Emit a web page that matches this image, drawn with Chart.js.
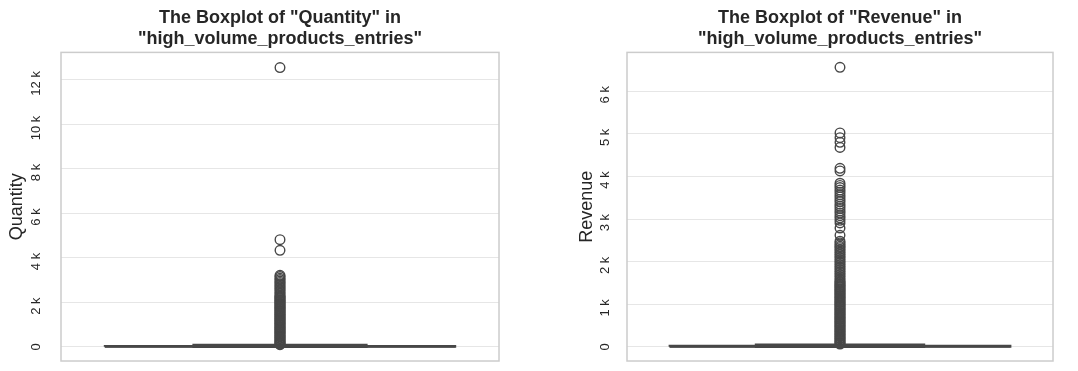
<!DOCTYPE html>
<html>
<head>
<meta charset="utf-8">
<script src="https://cdn.jsdelivr.net/npm/chart.js@4.4.1/dist/chart.umd.min.js"></script>
<style>
body{margin:0;background:#fff;width:1078px;height:371px;position:relative;overflow:hidden}
canvas{position:absolute;top:0}
</style>
</head>
<body>
<canvas id="qty" width="520" height="371" style="left:0"></canvas>
<canvas id="rev" width="538" height="371" style="left:540px"></canvas>
<script>
// box stats: whisker low, q1, median, q3, whisker high
const qtyStats = [1, 6, 16, 42, 95]
const revStats = [1, 5, 12, 27, 60]

// outliers (the low ones are so packed they make a solid column)
const qtyOutliers = [12550, 4820, 4340,
  3220, 3160, 3090, 3030, 2960, 2900, 2840, 2770, 2710, 2650, 2590, 2520, 2460, 2400, 2330, 2280,
  2240, 2210, 2170, 2120, 2090, 2040, 2010, 1960, 1920, 1890, 1840, 1800, 1770, 1720, 1690, 1640,
  1600, 1570, 1520, 1480, 1450, 1400, 1370, 1320, 1280, 1250, 1200, 1170, 1120, 1080, 1050, 1000,
  970, 920, 880, 850, 800, 770, 720, 680, 650, 600, 570, 520, 480, 450, 400, 370, 320, 280, 250,
  200, 170, 130, 105]
const revOutliers = [6560, 5020, 4910, 4800, 4680, 4190, 4130,
  3840, 3790, 3740, 3680, 3630, 3570, 3520, 3460, 3410, 3350, 3300, 3250, 3190, 3140, 3080, 3030,
  2970, 2910, 2790, 2620, 2480,
  2440, 2400, 2360, 2330, 2290, 2250, 2210, 2170, 2130, 2090, 2050, 2010, 1970, 1930, 1890, 1850,
  1810, 1770, 1730, 1690, 1650, 1610, 1570,
  1540, 1510, 1490, 1460, 1440, 1410, 1390, 1360, 1340, 1310, 1290, 1260, 1240, 1210, 1190, 1160,
  1140, 1110, 1090, 1060, 1040, 1010, 990, 960, 940, 910, 890, 860, 840, 810, 790, 760, 740, 710,
  690, 660, 640, 610, 590, 560, 540, 510, 490, 460, 440, 410, 390, 360, 340, 310, 290, 260, 240,
  210, 190, 160, 140, 110, 90, 70]

const qtyTicks = [0, 2000, 4000, 6000, 8000, 10000, 12000]
const revTicks = [0, 1000, 2000, 3000, 4000, 5000, 6000]
const qtyRange = [-630, 13230]
const revRange = [-329, 6909]

const ink = '#474747'
const font = "'Liberation Sans', Arial, sans-serif"

// frame round the plot area, like the seaborn whitegrid spines
const frame = {
  id: 'frame',
  afterDraw(chart) {
    const a = chart.chartArea, ctx = chart.ctx
    ctx.save()
    ctx.strokeStyle = '#cccccc'
    ctx.lineWidth = 1.5
    ctx.strokeRect(a.left, a.top, a.right - a.left, a.bottom - a.top)
    ctx.restore()
  }
}

function seg(points) {
  return {
    data: points.map(p => ({x: p[0], y: p[1]})),
    showLine: true, borderColor: ink, borderWidth: 2, pointRadius: 0, fill: false
  }
}

function boxDatasets(s, outliers) {
  const [lo, q1, med, q3, hi] = s
  return [
    seg([[-0.4, q1], [0.4, q1], [0.4, q3], [-0.4, q3], [-0.4, q1]]),
    seg([[-0.4, med], [0.4, med]]),
    seg([[0, lo], [0, q1]]),
    seg([[0, q3], [0, hi]]),
    seg([[-0.2, lo], [0.2, lo]]),
    seg([[-0.2, hi], [0.2, hi]]),
    {
      data: outliers.map(v => ({x: 0, y: v})),
      pointRadius: 4.8, pointBorderWidth: 1.4, borderColor: ink,
      backgroundColor: 'rgba(0,0,0,0)', showLine: false
    }
  ]
}

function makeChart(id, title, label, stats, outliers, ticks, range, padLeft, padRight, titlePad) {
  return new Chart(document.getElementById(id), {
    type: 'scatter',
    data: {datasets: boxDatasets(stats, outliers)},
    options: {
      responsive: false, animation: false, devicePixelRatio: 1,
      layout: {padding: {left: padLeft, right: padRight, top: 0, bottom: 10}},
      plugins: {
        legend: {display: false},
        tooltip: {enabled: false},
        title: {
          display: true, text: title, fullSize: false, color: '#262626',
          font: {family: font, size: 18, weight: 'bold', lineHeight: 1.15},
          padding: {top: 8, bottom: 3}
        }
      },
      scales: {
        x: {type: 'linear', min: -0.5, max: 0.5, display: false},
        y: {
          min: range[0], max: range[1],
          afterBuildTicks: sc => { sc.ticks = ticks.map(v => ({value: v})) },
          afterFit: sc => { sc.width = 61; sc.paddingTop = 0; sc.paddingBottom = 0 },
          grid: {color: '#e6e6e6', lineWidth: 1, drawTicks: false},
          border: {display: false},
          ticks: {
            minRotation: 90, maxRotation: 90, crossAlign: 'center', padding: 9,
            color: '#262626', font: {family: font, size: 13},
            // trailing spaces nudge the rotated "k" labels a little below their grid line
            callback: v => v === 0 ? '0' : (v / 1000) + ' k  '
          },
          title: {
            display: true, text: label, color: '#262626',
            font: {family: font, size: 18}, padding: {top: titlePad, bottom: 0}
          }
        }
      }
    },
    plugins: [frame]
  })
}

makeChart('qty', ['The Boxplot of "Quantity" in', '"high_volume_products_entries"'], 'Quantity',
  qtyStats, qtyOutliers, qtyTicks, qtyRange, 0, 21, 6)
makeChart('rev', ['The Boxplot of "Revenue" in', '"high_volume_products_entries"'], 'Revenue',
  revStats, revOutliers, revTicks, revRange, 26, 25, 10)
</script>
</body>
</html>
